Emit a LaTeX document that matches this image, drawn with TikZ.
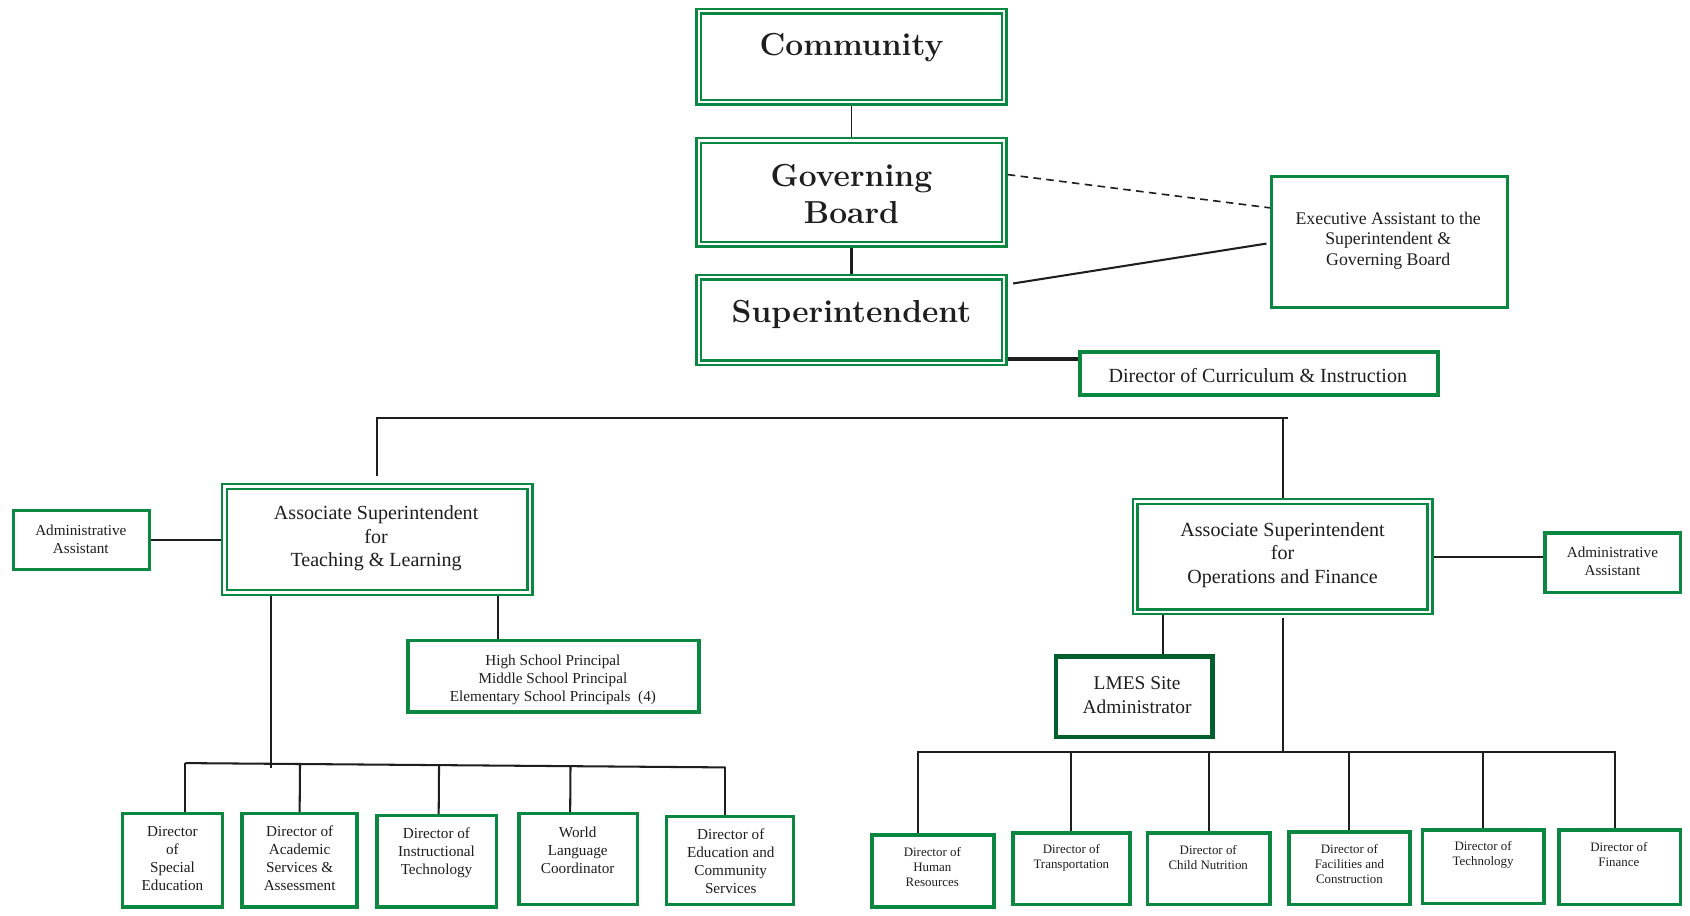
\documentclass[tikz,border=0pt]{standalone}
\usepackage{fontspec}
\newfontfamily\tnr{Liberation Serif}
\usetikzlibrary{calc}
\definecolor{gr}{RGB}{10,135,65}
\definecolor{dgr}{RGB}{0,95,45}
\definecolor{ln}{RGB}{30,30,30}
\pgfdeclarelayer{bgl}
\pgfdeclarelayer{lines}
\pgfsetlayers{bgl,lines,main}
\begin{document}
\begin{tikzpicture}[x=1pt,y=-1pt,
  dbl/.style={draw=gr, line width=2.3pt, double=white, double distance=2pt, outer sep=0pt, inner sep=0pt},
  sbx/.style={draw=gr, line width=3pt, outer sep=0pt, inner sep=0pt},
  cbx/.style={draw=gr, line width=3.8pt, outer sep=0pt, inner sep=0pt},
  lmbx/.style={draw=dgr, line width=4pt, outer sep=0pt, inner sep=0pt},
  lbx/.style={draw=gr, line width=3.2pt, outer sep=0pt, inner sep=0pt},
  rbx/.style={draw=gr, line width=3.5pt, outer sep=0pt, inner sep=0pt},
  sz/.style 2 args={minimum width=#1pt, minimum height=#2pt},
  ht/.style={align=center, inner sep=0pt, text=ln, font=\fontsize{29.5}{34}\selectfont\bfseries},
  tA/.style={align=center, inner sep=0pt, text=ln, font=\tnr\fontsize{18.6}{22}\selectfont},
  tE/.style={align=center, inner sep=0pt, text=ln, font=\tnr\fontsize{16.5}{19}\selectfont},
  tS/.style={align=center, inner sep=0pt, text=ln, font=\tnr\fontsize{14.1}{16.6}\selectfont},
  tR/.style={align=center, inner sep=0pt, text=ln, font=\tnr\fontsize{12}{14}\selectfont},
  conn/.style={draw=ln, line width=1.9pt},
  thin/.style={draw=ln, line width=1.5pt}
]
\useasboundingbox (0,0) rectangle (1568,849);
\begin{pgfonlayer}{bgl}
\fill[white] (0,0) rectangle (1568,849);
\end{pgfonlayer}

% top boxes
\node[dbl, sz={283.4}{84.4}] (comm) at (790,52.5) {};
\node[ht] (commT) at (790,44) {Community};
\node[dbl, sz={283.4}{96.4}] (gov) at (790,178.5) {};
\node[ht] (govT) at (790,180) {Governing\\Board};
\node[dbl, sz={283.4}{79.4}] (super) at (790,297) {};
\node[ht] (superT) at (790,292) {Superintendent};

\node[sbx, sz={219}{122}] (exec) at (1289,224.5) {};
\node[tE] (execT) at (1288,223) {Executive Assistant to the\\Superintendent \&\\Governing Board};
\node[cbx, sz={332.2}{39.2}] (curr) at (1168,346.5) {};
\node[tA] (currT) at (1167,348) {Director of Curriculum \& Instruction};

% associate superintendents
\node[dbl, sz={283.4}{98.4}] (tl) at (350,500.5) {};
\node[tA] (tlT) at (349,499.5) {Associate Superintendent\\for\\Teaching \& Learning};
\node[dbl, sz={273.4}{102.4}] (ops) at (1190,516.5) {};
\node[tA] (opsT) at (1190,515) {Associate Superintendent\\for\\Operations and Finance};

\node[sbx, sz={126}{55}] (admL) at (75.5,501) {};
\node[tS] (admLT) at (75,500) {Administrative\\Assistant};
\node[sbx, sz={126}{55}] (admR) at (1496.5,522) {};
\node[tS] (admRT) at (1496,520.5) {Administrative\\Assistant};

\node[sbx, sz={270}{66}] (prin) at (513.5,627.5) {};
\node[tS] (prinT) at (513,630.5) {High School Principal\\Middle School Principal\\Elementary School Principals~~(4)};

\node[lmbx, sz={145}{75}] (lmes) at (1052.5,646.5) {};
\node[tA, font=\tnr\fontsize{18}{22}\selectfont] (lmesT) at (1055,645) {LMES Site\\Administrator};

% left bottom boxes
\node[lbx, sz={92.8}{86.8}] (sped) at (160,798) {};
\node[tS] (spedT) at (160,796.5) {Director\\of\\Special\\Education};
\node[lbx, sz={106.8}{86.8}] (acad) at (278,798) {};
\node[tS] (acadT) at (278,796.5) {Director of\\Academic\\Services \&\\Assessment};
\node[lbx, sz={110.8}{84.8}] (instr) at (405,799) {};
\node[tS] (instrT) at (405,791) {Director of\\Instructional\\Technology};
\node[lbx, sz={109.8}{84.8}] (world) at (536.5,797) {};
\node[tS] (worldT) at (536,789) {World\\Language\\Coordinator};
\node[lbx, sz={117.8}{81.8}] (edcom) at (677.5,798.5) {};
\node[tS] (edcomT) at (678,799) {Director of\\Education and\\Community\\Services};

% right bottom boxes
\node[rbx, sz={113.5}{66.5}] (hr) at (865.5,808) {};
\node[tR] (hrT) at (865,804.5) {Director of\\Human\\Resources};
\node[rbx, sz={108.5}{66.5}] (trans) at (994,806) {};
\node[tR] (transT) at (994,796) {Director of\\Transportation};
\node[rbx, sz={113.5}{66.5}] (child) at (1121.5,806) {};
\node[tR] (childT) at (1121,796) {Director of\\Child Nutrition};
\node[rbx, sz={112.5}{67.5}] (fac) at (1252,805.5) {};
\node[tR] (facT) at (1252,801.5) {Director of\\Facilities and\\Construction};
\node[rbx, sz={112.5}{68.5}] (tech) at (1376,804) {};
\node[tR] (techT) at (1376,793) {Director of\\Technology};
\node[rbx, sz={112.5}{69.5}] (fin) at (1503,804.5) {};
\node[tR] (finT) at (1502,793) {Director of\\Finance};

% coordinates of buses
\coordinate (busL) at (349,388);
\coordinate (busR) at (1195,388);
\coordinate (rbL) at (851,698);
\coordinate (rbR) at (1499,698);
\coordinate (lbL) at (172,708);
\coordinate (lbR) at (673,712);
\coordinate (lj) at (251,713);

\begin{pgfonlayer}{lines}
\draw[thin] (comm.south) -- (gov.north);
\draw[conn] (gov.south) -- (super.north);
\draw[thin, dash pattern=on 7pt off 5pt] ([shift={(3.3pt,16.5pt)}]gov.east) -- ([yshift=31.5pt]exec.west);
\draw[conn] ([shift={(8.3pt,34pt)}]super.east) -- ([shift={(-4.5pt,-1.5pt)}]exec.west);
\draw[draw=ln, line width=3pt] ([yshift=13.5pt]curr.west) -- ([yshift=13.5pt]curr.west -| super.east);

\draw[conn] (busL) -- (busR);
\draw[conn, shorten <=10pt] (tl.north) -- (tl.north |- busL);
\draw[conn] (ops.north) -- (ops.north |- busL);

\draw[conn] (admL.east) -- (admL.east -| tl.west);
\draw[conn] (ops.east) -- (ops.east -| admR.west);
\draw[conn] ([xshift=-51.5pt]prin.north) -- ([xshift=-51.5pt]prin.north |- tl.south);
\draw[draw=ln, line width=2.6pt] ([xshift=26.5pt]lmes.north) -- ([xshift=26.5pt]lmes.north |- ops.south);

% right group
\draw[conn, shorten <=6pt] (ops.south) -- (ops.south |- rbL);
\draw[conn] (rbL) -- (rbR);
\draw[conn] ([xshift=-13.5pt]hr.north) -- ([xshift=-13.5pt]hr.north |- rbL);
\draw[conn] (trans.north) -- (trans.north |- rbL);
\draw[conn] (child.north) -- (child.north |- rbL);
\draw[conn] (fac.north) -- (fac.north |- rbL);
\draw[conn] (tech.north) -- (tech.north |- rbL);
\draw[conn] ([xshift=-5pt]fin.north) -- ([xshift=-5pt]fin.north |- rbL);

% left group
\draw[conn] ([xshift=-99pt]tl.south) -- (lj);
\draw[conn] (lbL) -- (lbR);
\draw[conn] ([xshift=12pt]sped.north) -- (lbL);
\draw[conn] (acad.north) -- ($(lbL)!(acad.north)!(lbR)$);
\draw[conn] ([xshift=2pt]instr.north) -- ($(lbL)!([xshift=2pt]instr.north)!(lbR)$);
\draw[conn] ([xshift=-7.5pt]world.north) -- ($(lbL)!([xshift=-7.5pt]world.north)!(lbR)$);
\draw[conn] ([xshift=-4.5pt]edcom.north) -- (lbR);
\end{pgfonlayer}
\end{tikzpicture}
\end{document}
